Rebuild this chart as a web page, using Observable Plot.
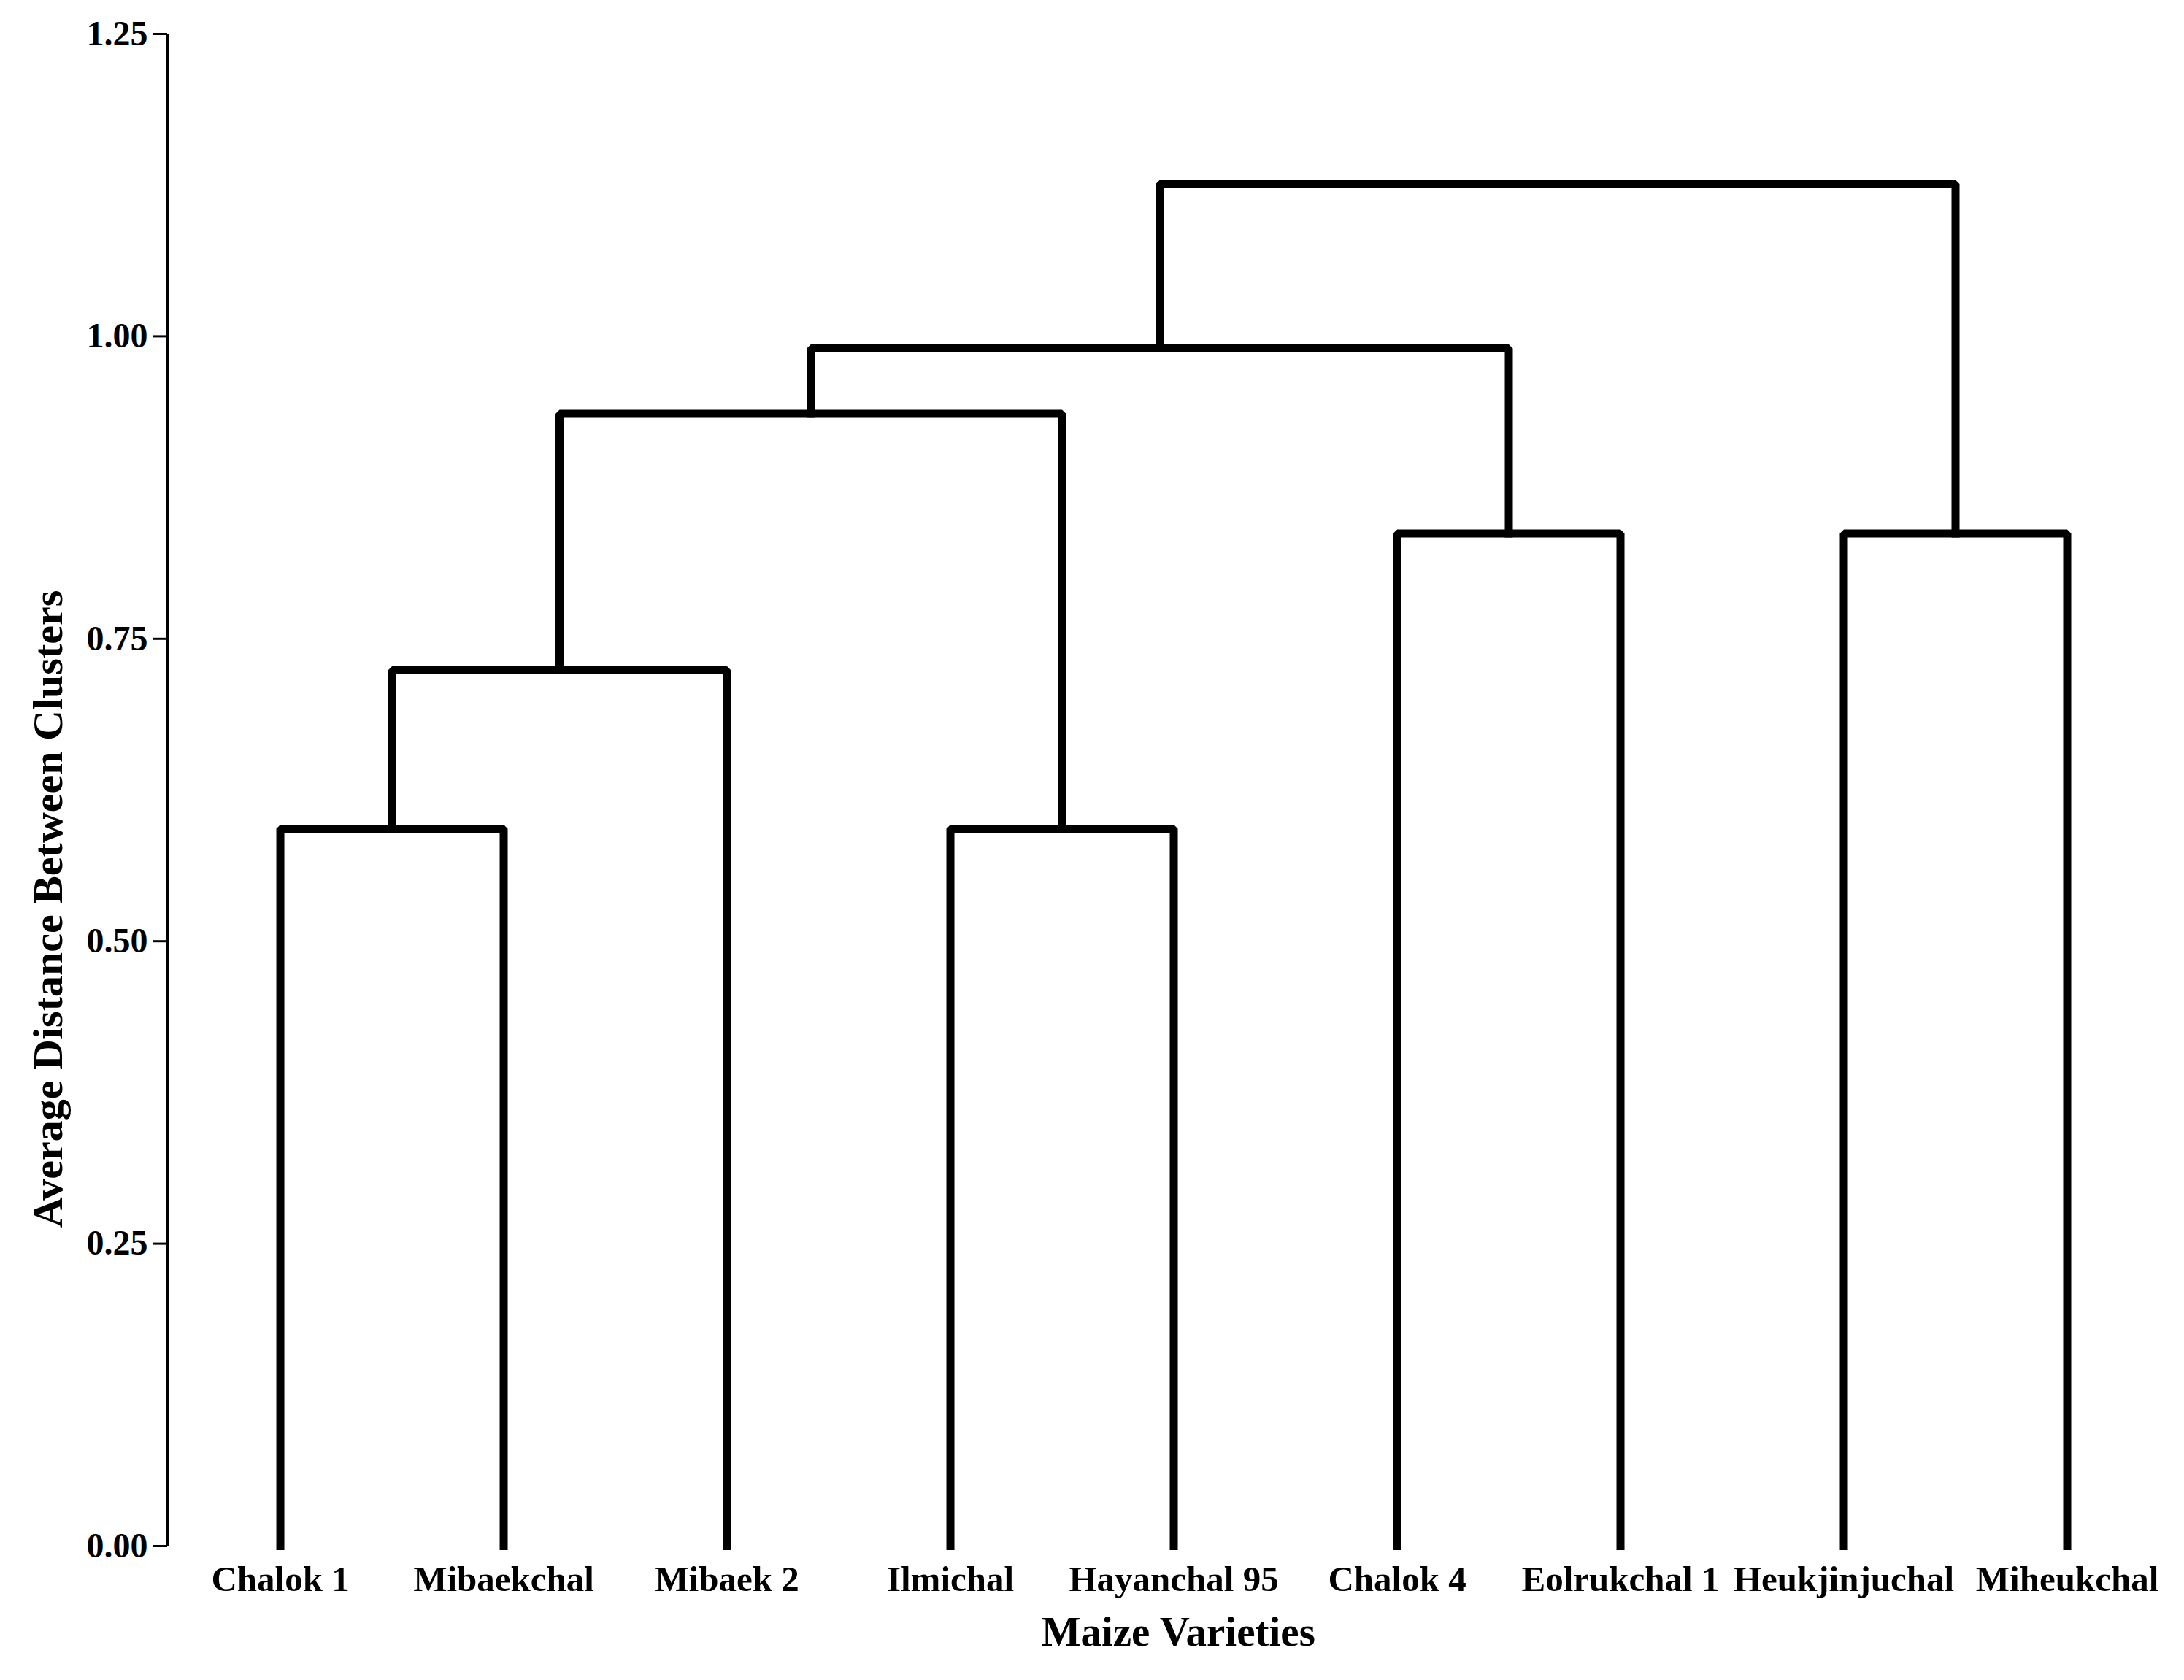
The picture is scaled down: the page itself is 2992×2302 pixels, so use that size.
<!DOCTYPE html>
<html>
<head>
<meta charset="utf-8">
<script src="https://cdn.jsdelivr.net/npm/d3@7"></script>
<script src="https://cdn.jsdelivr.net/npm/@observablehq/plot@0.6"></script>
<style>
  html, body { margin: 0; padding: 0; background: #fff; }
  #chart svg { display: block; }
</style>
</head>
<body>
<div id="chart"></div>
<script>
// Leaves (left to right)
const leaves = ["Chalok 1", "Mibaekchal", "Mibaek 2", "Ilmichal", "Hayanchal 95", "Chalok 4", "Eolrukchal 1", "Heukjinjuchal", "Miheukchal"];

// Agglomeration steps (average linkage)
const mergeIds    = ["n1", "n2", "n3", "n4", "n5", "n6", "n7", "n8"];
const mergeLeft   = ["Chalok 1", "n1", "Ilmichal", "n2", "Chalok 4", "n4", "Heukjinjuchal", "n6"];
const mergeRight  = ["Mibaekchal", "Mibaek 2", "Hayanchal 95", "n3", "Eolrukchal 1", "n5", "Miheukchal", "n7"];
const mergeHeight = [0.593, 0.724, 0.593, 0.936, 0.837, 0.990, 0.837, 1.126];

// Axis ticks
const yTicks = [0, 0.25, 0.5, 0.75, 1.0, 1.25];

// Build node positions
const nodes = new Map();
leaves.forEach((name, i) => nodes.set(name, {x: i, h: 0}));
const segs = [];
mergeIds.forEach((id, k) => {
  const a = nodes.get(mergeLeft[k]);
  const b = nodes.get(mergeRight[k]);
  const h = mergeHeight[k];
  segs.push({z: id, x: a.x, y: a.h});
  segs.push({z: id, x: a.x, y: h});
  segs.push({z: id, x: b.x, y: h});
  segs.push({z: id, x: b.x, y: b.h});
  nodes.set(id, {x: (a.x + b.x) / 2, h});
});

const xDomain = [-0.505, 8.5];
const font = "'Liberation Serif', 'Times New Roman', Times, serif";

const chart = Plot.plot({
  width: 2992,
  height: 2302,
  marginLeft: 229,
  marginRight: 7.5,
  marginTop: 46,
  marginBottom: 184,
  style: {fontFamily: font, color: "black", background: "white", overflow: "visible"},
  x: {domain: xDomain},
  y: {domain: [yTicks[0], yTicks[yTicks.length - 1]]},
  marks: [
    Plot.line(segs, {x: "x", y: "y", z: "z", stroke: "black", strokeWidth: 11, strokeLinejoin: "miter", strokeLinecap: "square", curve: "linear"}),
    Plot.ruleX([xDomain[0]], {y1: yTicks[0], y2: yTicks[yTicks.length - 1], stroke: "black", strokeWidth: 4}),
    Plot.axisY({ticks: yTicks, tickFormat: d3.format(".2f"), tickSize: 19, tickPadding: 8, fontSize: 48, fontWeight: "bold", strokeWidth: 3, label: null}),
    Plot.axisX({ticks: d3.range(leaves.length), tickFormat: i => leaves[i], tickSize: 0, tickPadding: 27, fontSize: 49, fontWeight: "bold", label: null}),
    Plot.text(["Maize Varieties"], {text: d => d, frameAnchor: "bottom", lineAnchor: "top", dy: 96, dx: 7, fontSize: 57, fontWeight: "bold", fill: "black"}),
    Plot.text(["Average Distance Between Clusters"], {text: d => d, frameAnchor: "left", textAnchor: "middle", rotate: -90, dx: -163, dy: 163, fontSize: 58, fontWeight: "bold", fill: "black"})
  ]
});

document.getElementById("chart").appendChild(chart);
</script>
</body>
</html>
